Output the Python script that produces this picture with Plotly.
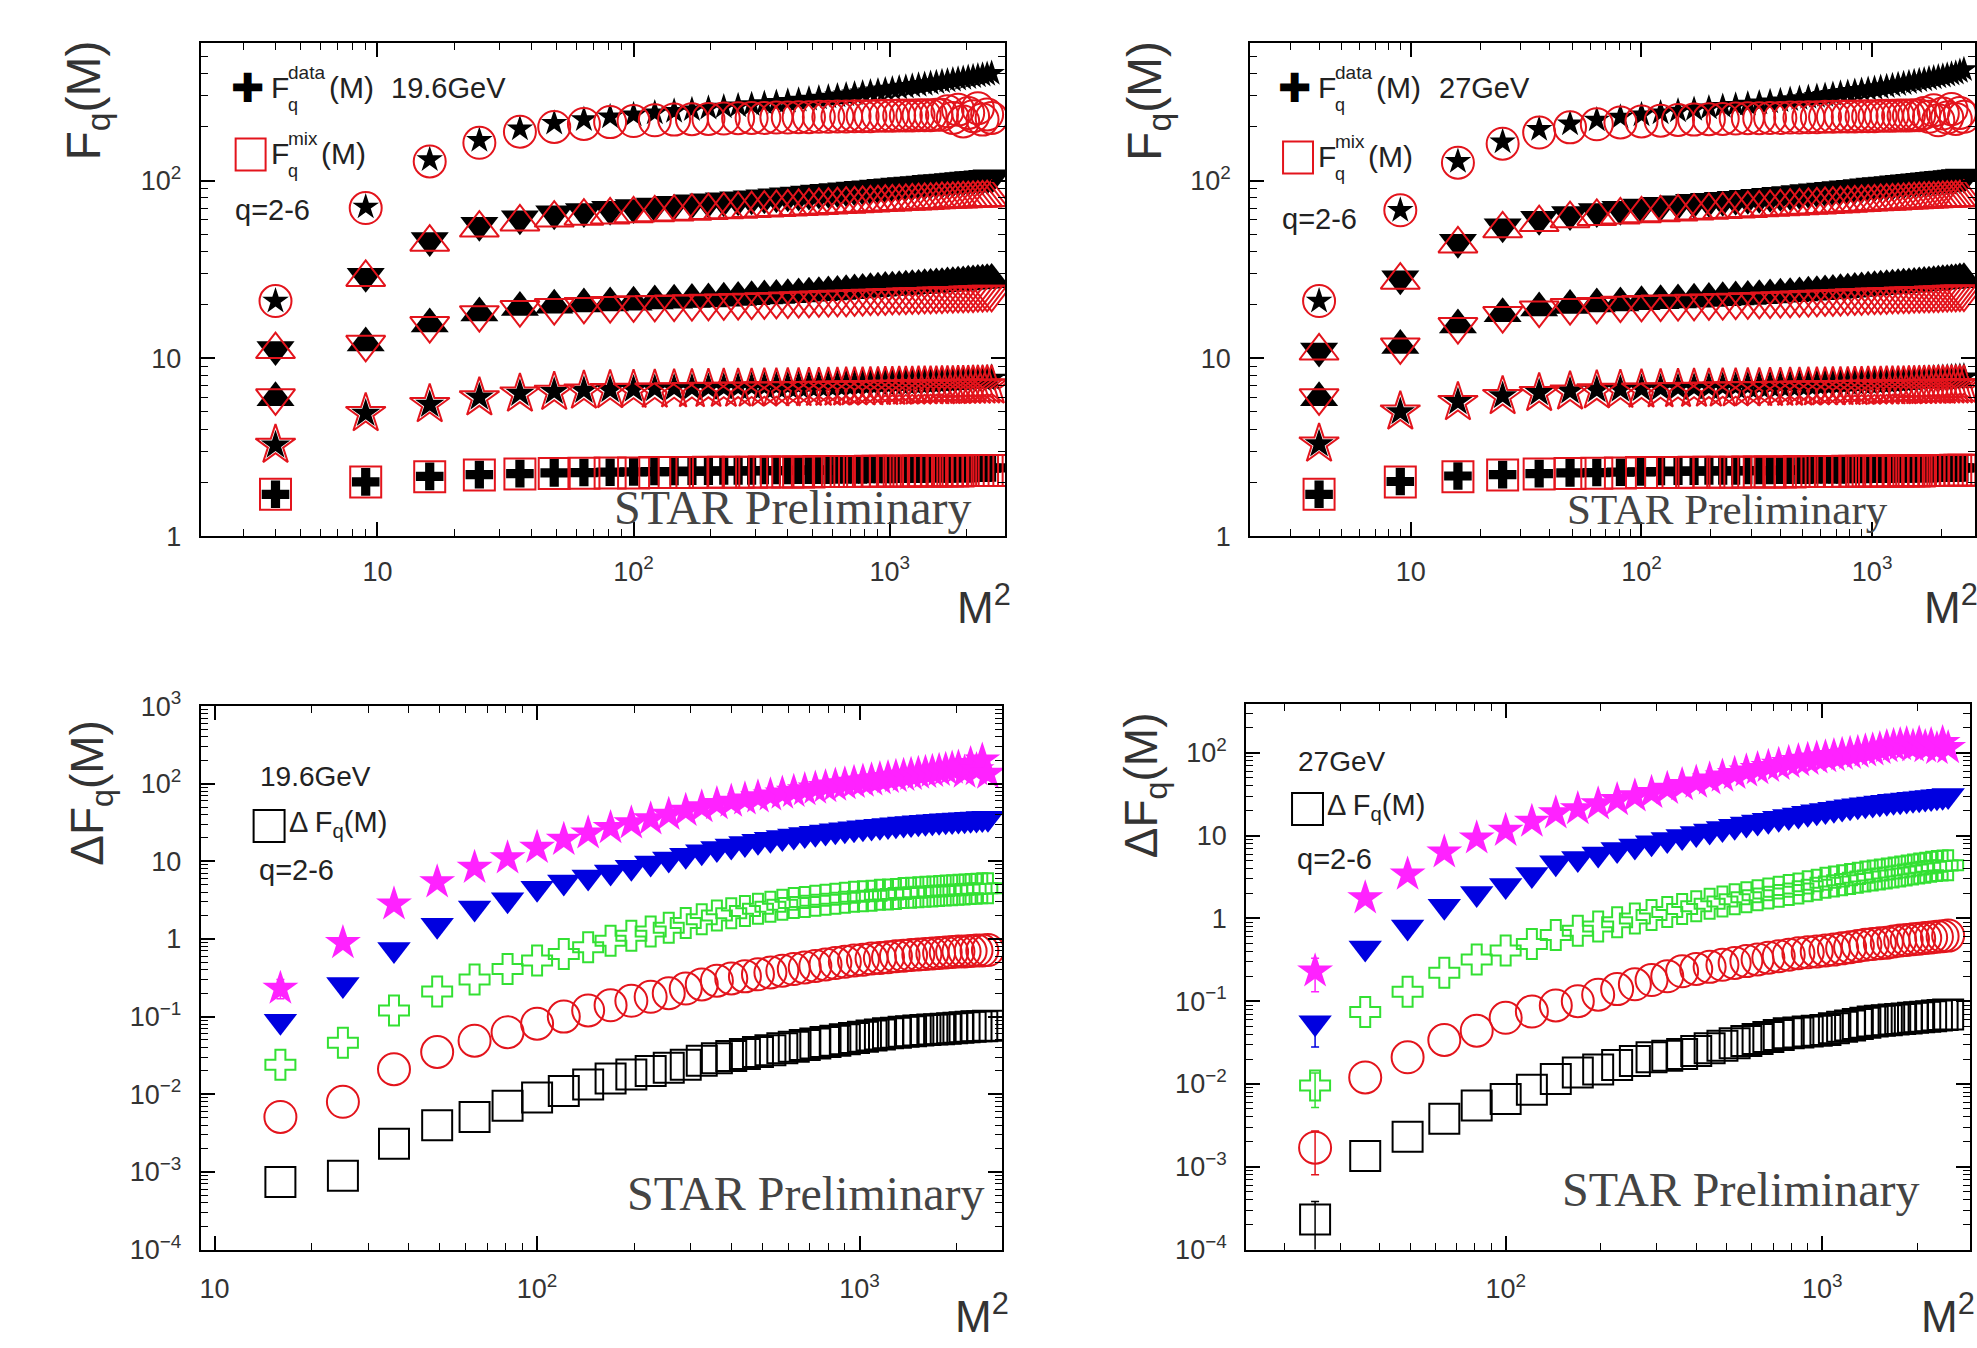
import plotly.graph_objects as go

W, H = 1977, 1348

# ---------------- data ----------------
# M^2 values (M = 2 ... 50)
M2_TOP = [4, 9, 16, 25, 36, 49, 64, 81, 100, 121, 144, 169, 196, 225, 256, 289, 324, 361,
          400, 441, 484, 529, 576, 625, 676, 729, 784, 841, 900, 961, 1024, 1089, 1156,
          1225, 1296, 1369, 1444, 1521, 1600, 1681, 1764, 1849, 1936, 2025, 2116, 2209,
          2304, 2401, 2500]
M2_BL = M2_TOP[2:]   # M = 4 ... 50
M2_BR = M2_TOP[3:]   # M = 5 ... 50

# ---- 19.6 GeV : F_q(M) data / mixed ----
F196_DATA_Q2 = [1.72, 2.02, 2.17, 2.22, 2.25, 2.27, 2.28, 2.29, 2.30,
                2.31, 2.31, 2.32, 2.32, 2.33, 2.33, 2.33, 2.34, 2.34, 2.34,
                2.35, 2.35, 2.35, 2.35, 2.36, 2.36, 2.36, 2.36, 2.37, 2.37,
                2.37, 2.37, 2.38, 2.38, 2.38, 2.38, 2.38, 2.39, 2.39, 2.39,
                2.39, 2.39, 2.40, 2.40, 2.40, 2.40, 2.41, 2.41, 2.41, 2.42]
F196_MIX_Q2 = [1.72, 2.02, 2.16, 2.21, 2.24, 2.25, 2.26, 2.27, 2.27,
               2.28, 2.28, 2.28, 2.29, 2.29, 2.29, 2.29, 2.30, 2.30, 2.30,
               2.30, 2.30, 2.31, 2.31, 2.31, 2.31, 2.31, 2.31, 2.32, 2.32,
               2.32, 2.32, 2.32, 2.32, 2.32, 2.33, 2.33, 2.33, 2.33, 2.33,
               2.33, 2.33, 2.33, 2.34, 2.34, 2.34, 2.34, 2.34, 2.34, 2.34]
F196_DATA_Q3 = [3.25, 4.9, 5.5, 6.05, 6.35, 6.5, 6.6, 6.65, 6.7,
                6.75, 6.8, 6.82, 6.85, 6.88, 6.9, 6.93, 6.95, 6.98, 7.0,
                7.02, 7.05, 7.07, 7.1, 7.12, 7.15, 7.17, 7.2, 7.22, 7.25,
                7.27, 7.3, 7.32, 7.34, 7.36, 7.38, 7.4, 7.42, 7.44, 7.46,
                7.48, 7.5, 7.52, 7.54, 7.56, 7.58, 7.6, 7.62, 7.65, 7.7]
F196_MIX_Q3 = [3.25, 4.9, 5.5, 6.0, 6.3, 6.45, 6.55, 6.6, 6.62,
               6.64, 6.66, 6.68, 6.7, 6.71, 6.72, 6.73, 6.74, 6.75, 6.76,
               6.77, 6.78, 6.79, 6.8, 6.81, 6.82, 6.83, 6.84, 6.85, 6.86,
               6.87, 6.88, 6.89, 6.9, 6.9, 6.91, 6.92, 6.93, 6.93, 6.94,
               6.95, 6.95, 6.96, 6.97, 6.97, 6.98, 6.98, 6.99, 7.0, 7.0]
F196_DATA_Q4 = [6.0, 12.2, 15.6, 18.0, 19.3, 19.9, 20.2, 20.5, 20.7,
                21.0, 21.2, 21.4, 21.6, 21.8, 22.0, 22.2, 22.4, 22.6, 22.8,
                23.0, 23.2, 23.4, 23.6, 23.8, 24.0, 24.2, 24.4, 24.6, 24.8,
                25.0, 25.1, 25.3, 25.4, 25.6, 25.7, 25.9, 26.0, 26.2, 26.3,
                26.5, 26.6, 26.8, 26.9, 27.1, 27.2, 27.4, 27.5, 27.7, 27.8]
F196_MIX_Q4 = [6.0, 12.0, 15.3, 17.6, 18.8, 19.3, 19.6, 19.8, 20.0,
               20.1, 20.2, 20.3, 20.4, 20.5, 20.6, 20.7, 20.8, 20.9, 21.0,
               21.1, 21.2, 21.3, 21.4, 21.5, 21.5, 21.6, 21.7, 21.8, 21.8,
               21.9, 22.0, 22.0, 22.1, 22.2, 22.2, 22.3, 22.3, 22.4, 22.4,
               22.5, 22.5, 22.6, 22.6, 22.7, 22.7, 22.8, 22.8, 22.9, 22.9]
F196_DATA_Q5 = [11.2, 29, 46, 56, 61, 65, 67, 69, 70.5,
                72, 73.5, 75, 76, 77, 78, 79, 80, 81, 82,
                83, 84, 85, 86, 86.8, 87.6, 88.4, 89.2, 90, 90.8,
                91.5, 92.2, 93, 93.7, 94.4, 95, 95.7, 96.4, 97, 97.6,
                98.2, 98.8, 99.4, 100, 100.6, 101.2, 101.8, 102.4, 103, 103.6]
F196_MIX_Q5 = [11.2, 28.5, 45, 54, 58.5, 61.5, 63, 64, 65,
               65.8, 66.5, 67.2, 67.8, 68.4, 69, 69.5, 70, 70.5, 71,
               71.5, 72, 72.4, 72.8, 73.2, 73.6, 74, 74.4, 74.8, 75.2,
               75.5, 75.8, 76.1, 76.4, 76.7, 77, 77.3, 77.6, 77.9, 78.2,
               78.4, 78.6, 78.8, 79, 79.2, 79.4, 79.6, 79.8, 80, 80.2]
F196_DATA_Q6 = [21, 71, 131, 168, 195, 210, 220, 228, 234,
                240, 245, 250, 255, 259, 263, 267, 271, 275, 279,
                283, 287, 291, 295, 299, 303, 307, 311, 315, 319,
                323, 327, 331, 335, 339, 343, 347, 351, 355, 359,
                363, 367, 371, 375, 379, 383, 387, 391, 395, 400]
F196_MIX_Q6 = [21, 70, 128, 163, 188, 200, 208, 213, 216,
               218, 220, 221, 222, 223, 224, 225, 225, 226, 226,
               227, 227, 228, 228, 229, 229, 230, 230, 230, 231,
               231, 231, 232, 232, 232, 233, 233, 233, 234, 234,
               245, 225, 250, 215, 240, 230, 255, 220, 235, 225]

# ---- 27 GeV : F_q(M) data / mixed ----
F27_DATA_Q2 = [1.72, 2.03, 2.18, 2.22, 2.25, 2.27, 2.28, 2.29, 2.30,
               2.31, 2.32, 2.32, 2.33, 2.33, 2.33, 2.34, 2.34, 2.34, 2.35,
               2.35, 2.35, 2.35, 2.36, 2.36, 2.36, 2.36, 2.37, 2.37, 2.37,
               2.37, 2.38, 2.38, 2.38, 2.38, 2.39, 2.39, 2.39, 2.39, 2.40,
               2.40, 2.40, 2.40, 2.41, 2.41, 2.41, 2.41, 2.42, 2.42, 2.42]
F27_MIX_Q2 = [1.72, 2.02, 2.16, 2.21, 2.24, 2.25, 2.26, 2.27, 2.28,
              2.28, 2.28, 2.29, 2.29, 2.29, 2.29, 2.30, 2.30, 2.30, 2.30,
              2.30, 2.31, 2.31, 2.31, 2.31, 2.31, 2.31, 2.32, 2.32, 2.32,
              2.32, 2.32, 2.32, 2.33, 2.33, 2.33, 2.33, 2.33, 2.33, 2.33,
              2.34, 2.34, 2.34, 2.34, 2.34, 2.34, 2.34, 2.35, 2.35, 2.35]
F27_DATA_Q3 = [3.3, 5.0, 5.7, 6.15, 6.4, 6.55, 6.65, 6.7, 6.75,
               6.8, 6.84, 6.87, 6.9, 6.93, 6.96, 6.99, 7.02, 7.05, 7.08,
               7.1, 7.13, 7.16, 7.18, 7.21, 7.24, 7.26, 7.29, 7.31, 7.34,
               7.36, 7.39, 7.41, 7.43, 7.46, 7.48, 7.5, 7.53, 7.55, 7.57,
               7.6, 7.62, 7.64, 7.67, 7.69, 7.71, 7.74, 7.76, 7.79, 7.82]
F27_MIX_Q3 = [3.3, 5.0, 5.65, 6.1, 6.35, 6.48, 6.57, 6.62, 6.65,
              6.67, 6.69, 6.71, 6.72, 6.74, 6.75, 6.76, 6.77, 6.78, 6.79,
              6.8, 6.81, 6.82, 6.83, 6.84, 6.85, 6.86, 6.86, 6.87, 6.88,
              6.89, 6.9, 6.9, 6.91, 6.92, 6.93, 6.93, 6.94, 6.95, 6.95,
              6.96, 6.97, 6.97, 6.98, 6.98, 6.99, 7.0, 7.0, 7.01, 7.01]
F27_DATA_Q4 = [6.0, 11.8, 15.4, 17.8, 19.2, 19.8, 20.2, 20.5, 20.8,
               21.1, 21.3, 21.5, 21.7, 21.9, 22.1, 22.3, 22.5, 22.7, 22.9,
               23.1, 23.3, 23.5, 23.7, 23.9, 24.1, 24.3, 24.5, 24.7, 24.9,
               25.1, 25.3, 25.4, 25.6, 25.8, 25.9, 26.1, 26.2, 26.4, 26.5,
               26.7, 26.8, 27.0, 27.1, 27.3, 27.4, 27.6, 27.7, 27.9, 28.0]
F27_MIX_Q4 = [6.0, 11.6, 15.1, 17.4, 18.7, 19.3, 19.6, 19.9, 20.1,
              20.2, 20.3, 20.4, 20.5, 20.6, 20.7, 20.8, 20.9, 21.0, 21.1,
              21.2, 21.3, 21.4, 21.5, 21.6, 21.6, 21.7, 21.8, 21.9, 21.9,
              22.0, 22.1, 22.1, 22.2, 22.3, 22.3, 22.4, 22.4, 22.5, 22.5,
              22.6, 22.6, 22.7, 22.7, 22.8, 22.8, 22.9, 22.9, 23.0, 23.0]
F27_DATA_Q5 = [11.0, 28, 45, 55, 60.5, 64.5, 67, 69, 71,
               72.5, 74, 75.5, 76.5, 77.5, 78.5, 79.5, 80.5, 81.5, 82.5,
               83.5, 84.5, 85.5, 86.4, 87.3, 88.2, 89, 89.8, 90.6, 91.4,
               92.2, 93, 93.7, 94.4, 95.1, 95.8, 96.5, 97.2, 97.9, 98.5,
               99.1, 99.7, 100.3, 100.9, 101.5, 102.1, 102.7, 103.3, 103.9, 104.5]
F27_MIX_Q5 = [11.0, 27.5, 44, 53.5, 58, 61, 62.8, 64, 65,
              65.8, 66.6, 67.3, 68, 68.6, 69.2, 69.7, 70.2, 70.7, 71.2,
              71.7, 72.1, 72.5, 72.9, 73.3, 73.7, 74.1, 74.5, 74.9, 75.3,
              75.6, 75.9, 76.2, 76.5, 76.8, 77.1, 77.4, 77.7, 78, 78.3,
              78.5, 78.7, 78.9, 79.1, 79.3, 79.5, 79.7, 79.9, 80.1, 80.3]
F27_DATA_Q6 = [21, 68, 128, 165, 194, 208, 219, 227, 234,
               240, 246, 251, 256, 261, 265, 269, 273, 277, 281,
               285, 289, 293, 297, 301, 305, 309, 313, 317, 321,
               325, 329, 333, 337, 341, 346, 350, 355, 359, 364,
               368, 373, 377, 382, 386, 391, 396, 401, 410, 420]
F27_MIX_Q6 = [21, 68, 126, 161, 186, 199, 207, 212, 215,
              217, 219, 220, 221, 222, 223, 224, 224, 225, 225,
              226, 226, 227, 227, 228, 228, 229, 229, 229, 230,
              230, 230, 231, 231, 231, 232, 232, 232, 233, 233,
              240, 228, 248, 218, 238, 226, 252, 222, 240, 228]

# ---- 19.6 GeV : Delta F_q(M), M = 4 ... 50 ----
D196_Q2 = [0.00074, 0.00089, 0.0023, 0.0040, 0.0051, 0.0071, 0.0091,
           0.011, 0.0134, 0.016, 0.018, 0.020, 0.022, 0.024, 0.027, 0.029, 0.031,
           0.033, 0.035, 0.037, 0.039, 0.041, 0.043, 0.045, 0.047, 0.049, 0.051,
           0.053, 0.055, 0.057, 0.059, 0.061, 0.062, 0.064, 0.065, 0.066, 0.067,
           0.068, 0.069, 0.070, 0.071, 0.072, 0.073, 0.074, 0.075, 0.075, 0.076]
D196_Q3 = [0.0051, 0.0080, 0.021, 0.035, 0.049, 0.063, 0.081,
           0.10, 0.12, 0.14, 0.16, 0.18, 0.20, 0.23, 0.26, 0.29, 0.31,
           0.33, 0.35, 0.37, 0.39, 0.41, 0.43, 0.45, 0.47, 0.49, 0.51,
           0.53, 0.54, 0.56, 0.57, 0.58, 0.60, 0.61, 0.62, 0.63, 0.64,
           0.65, 0.66, 0.67, 0.68, 0.69, 0.69, 0.70, 0.71, 0.71, 0.72]
D196_Q4 = [0.024, 0.046, 0.12, 0.21, 0.30, 0.41, 0.53,
           0.64, 0.78, 0.95, 1.1, 1.25, 1.4, 1.6, 1.8, 2.0, 2.15,
           2.3, 2.45, 2.6, 2.75, 2.9, 3.0, 3.1, 3.2, 3.3, 3.4,
           3.5, 3.55, 3.6, 3.7, 3.75, 3.8, 3.9, 3.95, 4.0, 4.05,
           4.1, 4.15, 4.2, 4.25, 4.3, 4.35, 4.4, 4.45, 4.5, 4.5]
D196_Q5 = [0.087, 0.26, 0.73, 1.5, 2.5, 3.2, 4.5,
           5.4, 6.3, 7.3, 8.4, 9.5, 10.7, 12.0, 13.3, 14.6, 15.8,
           17.0, 18.1, 19.2, 20.2, 21.2, 22.1, 23.0, 23.9, 24.7, 25.5,
           26.3, 27.0, 27.7, 28.4, 29.0, 29.6, 30.2, 30.8, 31.3, 31.8,
           32.3, 32.8, 33.2, 33.6, 34.0, 34.4, 34.8, 35.2, 35.6, 36.0]
D196_Q6 = [0.23, 0.89, 2.8, 5.4, 8.3, 11, 15,
           19, 23, 27, 31, 35, 40, 45, 50, 55, 59,
           63, 67, 71, 75, 79, 83, 87, 91, 95, 99,
           103, 107, 111, 115, 119, 123, 127, 131, 135, 139,
           143, 147, 152, 157, 162, 140, 180, 150, 200, 135]

# ---- 27 GeV : Delta F_q(M), M = 5 ... 50 ----
D27_Q2 = [0.00023, 0.00135, 0.0023, 0.0038, 0.0055, 0.0066,
          0.0085, 0.0115, 0.0138, 0.015, 0.017, 0.019, 0.021, 0.022, 0.023, 0.025,
          0.027, 0.029, 0.031, 0.033, 0.035, 0.037, 0.039, 0.041, 0.042, 0.043,
          0.044, 0.045, 0.047, 0.049, 0.051, 0.053, 0.055, 0.057, 0.058, 0.059,
          0.060, 0.061, 0.062, 0.063, 0.064, 0.065, 0.066, 0.067, 0.068, 0.069]
D27_Q3 = [0.0017, 0.012, 0.021, 0.034, 0.044, 0.063,
          0.075, 0.089, 0.10, 0.12, 0.14, 0.16, 0.18, 0.20, 0.23, 0.245,
          0.26, 0.275, 0.29, 0.305, 0.32, 0.335, 0.35, 0.365, 0.38, 0.39,
          0.40, 0.41, 0.42, 0.435, 0.45, 0.465, 0.48, 0.49, 0.50, 0.51,
          0.525, 0.54, 0.55, 0.56, 0.57, 0.58, 0.59, 0.60, 0.61, 0.62]
D27_Q4 = [0.0096, 0.074, 0.13, 0.22, 0.32, 0.41,
          0.49, 0.63, 0.71, 0.80, 0.90, 1.0, 1.1, 1.2, 1.3, 1.4,
          1.5, 1.6, 1.7, 1.8, 1.9, 2.0, 2.1, 2.2, 2.3, 2.45,
          2.55, 2.7, 2.8, 2.9, 3.0, 3.1, 3.2, 3.3, 3.4, 3.5,
          3.6, 3.7, 3.8, 3.9, 4.0, 4.1, 4.2, 4.3, 4.35, 4.4]
D27_Q5 = [0.055, 0.44, 0.79, 1.4, 2.0, 2.5,
          3.4, 4.7, 5.3, 6.0, 6.8, 7.5, 8.2, 9.0, 9.8, 10.6,
          11.4, 12.2, 13.0, 13.8, 14.6, 15.4, 16.2, 17.0, 17.8, 18.6,
          19.4, 20.2, 20.9, 21.6, 22.3, 23.0, 23.6, 24.2, 24.8, 25.4,
          26.0, 26.5, 27.0, 27.5, 28.0, 28.5, 29.0, 29.5, 30.0, 30.5]
D27_Q6 = [0.23, 1.76, 3.4, 6.3, 9.3, 11.5,
          14.8, 18.7, 21, 24, 27, 30, 33, 37, 41, 44,
          48, 52, 56, 60, 64, 68, 72, 76, 80, 83,
          86, 89, 92, 95, 98, 101, 105, 108, 112, 118,
          122, 125, 128, 120, 130, 118, 125, 112, 132, 115]

# error bars visible only on the first (lowest-M) points: (plus, minus)
D196_FIRST_ERR = {"q6": (0.07, 0.06)}
D27_FIRST_ERR = {"q2": (0.00015, 0.00015), "q3": (0.0010, 0.0009),
                 "q4": (0.004, 0.0044), "q5": (0.0, 0.027), "q6": (0.10, 0.10)}

X_TICKVALS = [10, 100, 1000]
X_TICKTEXT = ["10", "10<sup>2</sup>", "10<sup>3</sup>"]
YT_TICKVALS = [1, 10, 100]
YT_TICKTEXT = ["1", "10", "10<sup>2</sup>"]
YB_TICKVALS = [1e-4, 1e-3, 1e-2, 1e-1, 1, 10, 100, 1000]
YB_TICKTEXT = ["10<sup>\u22124</sup>", "10<sup>\u22123</sup>", "10<sup>\u22122</sup>",
               "10<sup>\u22121</sup>", "1", "10", "10<sup>2</sup>", "10<sup>3</sup>"]

# ---------------- styles ----------------
RED = "#e3141c"
BLACK = "#000000"
BOT_COLORS = {"q2": "#000000", "q3": "#e3141c", "q4": "#33e033", "q5": "#0000e0", "q6": "#ff22ff"}

fig = go.Figure()

TOP_STYLE = {
    "q2": (("cross", 23), ("square-open", 31)),
    "q3": (("star", 22), ("star-open", 30)),
    "q4": (("triangle-up", 33), ("triangle-down-open", 34)),
    "q5": (("triangle-down", 33), ("triangle-up-open", 34)),
    "q6": (("star", 20), ("circle-open", 32)),
}


def add_top(xa, ya, data, mix):
    for q in ["q2", "q3", "q4", "q5", "q6"]:
        (sd, zd), (sm, zm) = TOP_STYLE[q]
        fig.add_trace(go.Scatter(x=M2_TOP, y=data[q], mode="markers", xaxis=xa, yaxis=ya,
                                 marker=dict(symbol=sd, size=zd, color=BLACK, line=dict(width=0)),
                                 showlegend=False, hoverinfo="skip"))
        fig.add_trace(go.Scatter(x=M2_TOP, y=mix[q], mode="markers", xaxis=xa, yaxis=ya,
                                 marker=dict(symbol=sm, size=zm, color=RED, line=dict(width=2, color=RED)),
                                 showlegend=False, hoverinfo="skip"))


add_top("x", "y",
        {"q2": F196_DATA_Q2, "q3": F196_DATA_Q3, "q4": F196_DATA_Q4, "q5": F196_DATA_Q5, "q6": F196_DATA_Q6},
        {"q2": F196_MIX_Q2, "q3": F196_MIX_Q3, "q4": F196_MIX_Q4, "q5": F196_MIX_Q5, "q6": F196_MIX_Q6})
add_top("x2", "y2",
        {"q2": F27_DATA_Q2, "q3": F27_DATA_Q3, "q4": F27_DATA_Q4, "q5": F27_DATA_Q5, "q6": F27_DATA_Q6},
        {"q2": F27_MIX_Q2, "q3": F27_MIX_Q3, "q4": F27_MIX_Q4, "q5": F27_MIX_Q5, "q6": F27_MIX_Q6})

BOT_STYLE = {
    "q2": ("square-open", 30, 2),
    "q3": ("circle-open", 32, 2),
    "q4": ("cross-open", 25, 2),
    "q5": ("triangle-down", 29, 0),
    "q6": ("star", 27, 0),
}


def add_bottom(xa, ya, xs, series, first_err):
    for q in ["q2", "q3", "q4", "q5", "q6"]:
        sym, sz, lw = BOT_STYLE[q]
        col = BOT_COLORS[q]
        if q in first_err:
            plus, minus = first_err[q]
            fig.add_trace(go.Scatter(
                x=xs[:1], y=series[q][:1], mode="markers", xaxis=xa, yaxis=ya,
                marker=dict(size=1, color="rgba(0,0,0,0)"),
                error_y=dict(type="data", array=[plus], arrayminus=[minus], visible=True,
                             color=col, thickness=1.5, width=4),
                showlegend=False, hoverinfo="skip"))
        fig.add_trace(go.Scatter(
            x=xs, y=series[q], mode="markers", xaxis=xa, yaxis=ya,
            marker=dict(symbol=sym, size=sz, color=col, line=dict(width=lw, color=col)),
            showlegend=False, hoverinfo="skip"))


add_bottom("x3", "y3", M2_BL,
           {"q2": D196_Q2, "q3": D196_Q3, "q4": D196_Q4, "q5": D196_Q5, "q6": D196_Q6}, D196_FIRST_ERR)
add_bottom("x4", "y4", M2_BR,
           {"q2": D27_Q2, "q3": D27_Q3, "q4": D27_Q4, "q5": D27_Q5, "q6": D27_Q6}, D27_FIRST_ERR)

# ---------------- geometry helpers ----------------
def px(x):
    return x / W


def fy(y):
    # vertical placement helper (target pixel row -> layout row)
    return (y - 18.3) / 0.9757


def py(y):
    return 1 - fy(y) / H


def minor_vals(e0, e1):
    return [m * 10 ** e for e in range(e0, e1) for m in range(2, 10)]


TICKFONT = dict(family="Liberation Sans, Arial, sans-serif", size=27, color="#333333")


def axis(domain, rng, tickvals, ticktext, minor, anchor, standoff):
    return dict(type="log", domain=domain, range=rng, anchor=anchor,
                showline=True, linecolor="black", linewidth=2, mirror="allticks",
                ticks="inside", ticklen=14, tickwidth=1.5, tickcolor="black",
                tickmode="array", tickvals=tickvals, ticktext=ticktext,
                minor=dict(ticks="inside", ticklen=7, tickwidth=1.2, tickcolor="black",
                           tickmode="array", tickvals=minor),
                showgrid=False, zeroline=False, tickfont=TICKFONT,
                ticklabelstandoff=standoff)


fig.update_layout(
    xaxis=axis([px(200), px(1006)], [0.31, 3.452], X_TICKVALS, X_TICKTEXT, minor_vals(0, 4), "y", 10),
    yaxis=axis([py(536), py(42)], [0, 2.775], YT_TICKVALS, YT_TICKTEXT, minor_vals(0, 3), "x", 12),
    xaxis2=axis([px(1251), 1.0], [0.303, 3.446], X_TICKVALS, X_TICKTEXT, minor_vals(0, 4), "y2", 10),
    yaxis2=axis([py(536), py(42)], [0, 2.775], YT_TICKVALS, YT_TICKTEXT, minor_vals(0, 3), "x2", 12),
    xaxis3=axis([px(200), px(1003)], [0.957, 3.443], X_TICKVALS, X_TICKTEXT, minor_vals(0, 4), "y3", 14),
    yaxis3=axis([py(1250), py(706)], [-4, 3], YB_TICKVALS, YB_TICKTEXT, minor_vals(-4, 3), "x3", 12),
    xaxis4=axis([px(1247), px(1972)], [1.18, 3.467], X_TICKVALS, X_TICKTEXT, minor_vals(0, 4), "y4", 14),
    yaxis4=axis([py(1250), py(704)], [-4, 2.59], YB_TICKVALS, YB_TICKTEXT, minor_vals(-4, 3), "x4", 12),
)

# ---------------- text ----------------
SANS = "Liberation Sans, Arial, sans-serif"
TXT = "#222222"
ann = []
shapes = []


def txt(x, y, text, size, anchor="left", color=TXT, family=SANS, angle=0):
    ann.append(dict(xref="paper", yref="paper", x=px(x), y=py(y), text=text, showarrow=False,
                    xanchor=anchor, yanchor="middle", textangle=angle,
                    font=dict(family=family, size=size, color=color)))


def top_legend(dx, dy_sq, dy_q, energy):
    # F_q^data(M) line
    txt(247 + dx, 87, "\u271a", 40, anchor="center", color="black", family="DejaVu Sans")
    txt(268 + dx, 87, "F", 30)
    txt(285 + dx, 72, "data", 19)
    txt(285 + dx, 104, "q", 18)
    txt(326 + dx, 87, "(M)", 30)
    txt(389 + dx, 87, energy, 29)
    # F_q^mix(M) line
    shapes.append(dict(type="rect", xref="paper", yref="paper",
                       x0=px(235 + dx), x1=px(265 + dx), y0=py(170 + dy_sq), y1=py(138 + dy_sq),
                       line=dict(color=RED, width=2)))
    txt(268 + dx, 153 + dy_sq, "F", 30)
    txt(285 + dx, 138 + dy_sq, "mix", 19)
    txt(285 + dx, 170 + dy_sq, "q", 18)
    txt(318 + dx, 153 + dy_sq, "(M)", 30)
    txt(232 + dx, 209 + dy_q, "q=2-6", 29)


top_legend(0, 0, 0, "19.6GeV")
top_legend(1049, 3, 9, "27GeV")


def bottom_legend(x0, y_e, y_sq, y_q, energy):
    txt(x0, y_e, energy, 28)
    shapes.append(dict(type="rect", xref="paper", yref="paper",
                       x0=px(x0 - 4), x1=px(x0 + 27), y0=py(y_sq + 16), y1=py(y_sq - 16),
                       line=dict(color="black", width=2)))
    txt(x0 + 29, y_sq - 2, "\u0394 F<sub>q</sub>(M)", 29)
    txt(x0 - 1, y_q, "q=2-6", 29)


bottom_legend(257, 777, 826, 870, "19.6GeV")
bottom_legend(1297, 762, 809, 859, "27GeV")

# axis titles
txt(86, 100, "F<sub>q</sub>(M)", 48, anchor="center", color="#333333", angle=-90)
txt(1148, 100, "F<sub>q</sub>(M)", 48, anchor="center", color="#333333", angle=-90)
txt(90, 793, "\u0394F<sub>q</sub>(M)", 46, anchor="center", color="#333333", angle=-90)
txt(1146, 785, "\u0394F<sub>q</sub>(M)", 46, anchor="center", color="#333333", angle=-90)

# M^2 labels
for (x, y) in [(984, 604), (1953, 604), (982, 1314), (1950, 1314)]:
    txt(x, y, "M<sup>2</sup>", 44, anchor="center", color="#333333")

# STAR Preliminary
SERIF = "Liberation Serif, Times New Roman, serif"
for (x, y, s) in [(793, 507, 48), (1729, 509, 43), (806, 1194, 48), (1742, 1190, 48)]:
    txt(x, y, "STAR Preliminary", s, anchor="center", color="#444444", family=SERIF)

fig.update_layout(
    width=W, height=H, margin=dict(l=0, r=0, t=0, b=0),
    paper_bgcolor="white", plot_bgcolor="white", showlegend=False,
    annotations=ann, shapes=shapes,
)

fig.write_html("out.html")
